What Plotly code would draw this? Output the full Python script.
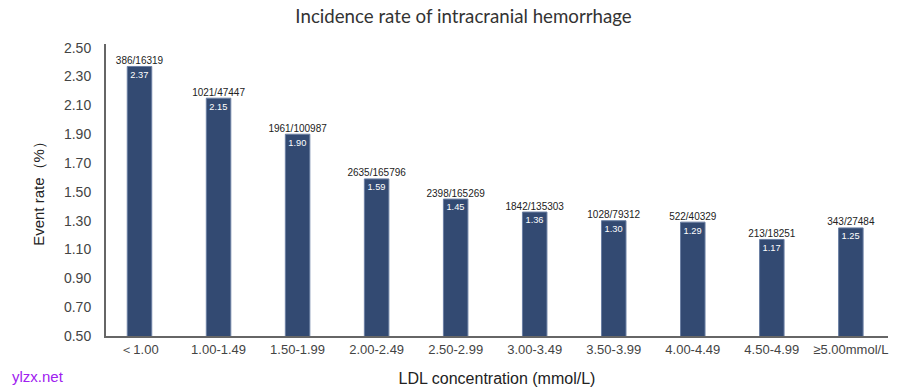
import plotly.graph_objects as go

categories = ["＜1.00", "1.00-1.49", "1.50-1.99", "2.00-2.49", "2.50-2.99",
              "3.00-3.49", "3.50-3.99", "4.00-4.49", "4.50-4.99", "≥5.00mmol/L"]
rates = [2.37, 2.15, 1.90, 1.59, 1.45, 1.36, 1.30, 1.29, 1.17, 1.25]
counts = ["386/16319", "1021/47447", "1961/100987", "2635/165796", "2398/165269",
          "1842/135303", "1028/79312", "522/40329", "213/18251", "343/27484"]
y_ticks = [0.50, 0.70, 0.90, 1.10, 1.30, 1.50, 1.70, 1.90, 2.10, 2.30, 2.50]

x_idx = list(range(len(categories)))
FONT = "Liberation Sans, Arial, sans-serif"

fig = go.Figure()
fig.add_trace(go.Bar(
    x=x_idx, y=rates, width=0.31,
    marker=dict(color="#334a72", line=dict(color="#6b7fa3", width=1)),
    text=[f"{v:.2f}" for v in rates], textposition="inside",
    insidetextanchor="end", textangle=0,
    textfont=dict(color="white", size=10, family=FONT),
    cliponaxis=False, hoverinfo="skip",
))
fig.add_trace(go.Scatter(
    x=x_idx, y=rates, mode="text", text=counts, textposition="top center",
    textfont=dict(color="#222222", size=10, family=FONT),
    cliponaxis=False, hoverinfo="skip",
))

fig.update_layout(
    width=906, height=391,
    margin=dict(l=106, r=18, t=44, b=55),
    paper_bgcolor="white", plot_bgcolor="white",
    showlegend=False,
    title=dict(text="Incidence rate of intracranial hemorrhage",
               x=0.5116, xanchor="center", y=0.958, yanchor="middle",
               font=dict(family="Lato, Open Sans", size=18.7, color="#333333")),
    font=dict(family=FONT, color="#444444"),
)
fig.update_xaxes(
    range=[-0.424, 9.47], tickmode="array", tickvals=x_idx, ticktext=categories,
    showgrid=False, zeroline=False, showline=True, linecolor="#666666", linewidth=2,
    ticks="", ticklabelstandoff=0, automargin=False,
    tickfont=dict(size=13, color="#444444", family=FONT),
    title=dict(text="LDL concentration (mmol/L)", standoff=17,
               font=dict(size=16, color="#222222", family=FONT)),
)
fig.update_yaxes(
    range=[0.5, 2.526], tickmode="array", tickvals=y_ticks,
    ticktext=[f"{v:.2f}" for v in y_ticks],
    showgrid=False, zeroline=False, showline=True, linecolor="#666666", linewidth=2,
    ticks="outside", ticklen=10, tickcolor="rgba(0,0,0,0)", automargin=False,
    tickfont=dict(size=14, color="#444444", family=FONT),
    title=dict(text="Event rate（%）", standoff=16,
               font=dict(size=15, color="#222222", family=FONT)),
)
fig.add_annotation(
    text="ylzx.net", xref="paper", yref="paper", x=-0.123, y=-0.137,
    xanchor="left", yanchor="middle", showarrow=False,
    font=dict(size=15, color="#a020f0", family=FONT),
)

fig.write_html("out.html", config={"displayModeBar": False},
               post_script="document.body.style.margin='0';document.body.style.padding='0';")
